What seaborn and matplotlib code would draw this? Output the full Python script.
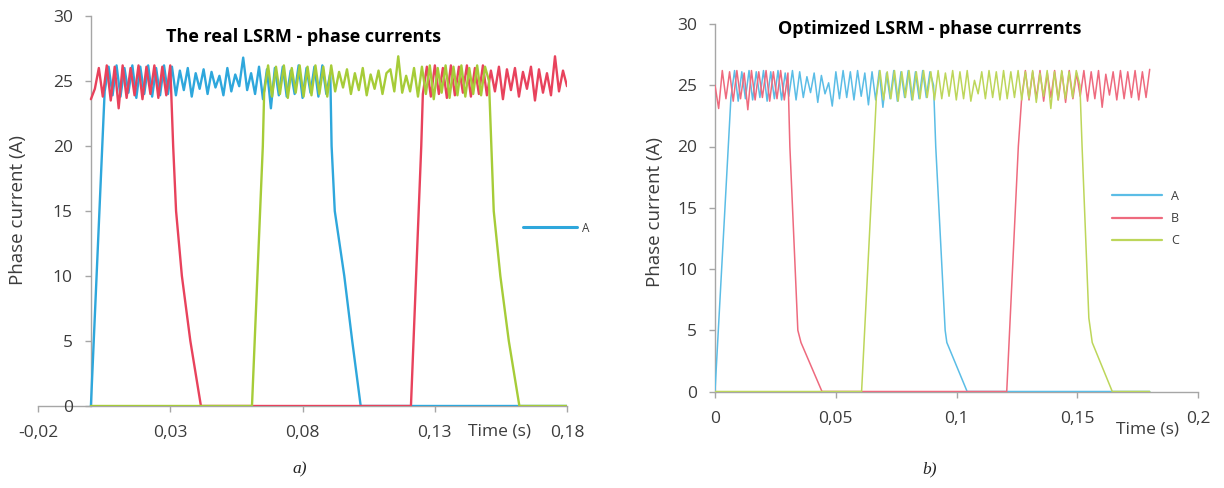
import numpy as np
import pandas as pd
import matplotlib
matplotlib.use("Agg")
import matplotlib.pyplot as plt
from matplotlib.lines import Line2D
import seaborn as sns

# ---- data ----
# left chart: the real LSRM
left_a_ripple = [
    24.2, 26.1, 23.9, 26.2, 23.8, 26.0, 24.1, 26.2, 23.7, 26.1,
    24.0, 26.2, 23.8, 26.0, 23.9, 26.2, 24.0, 26.1,
    23.9, 25.8, 24.3, 26.0, 23.8, 25.6, 24.4, 25.9, 24.0, 25.7,
    24.5, 25.4, 23.9, 26.0, 24.2, 25.5, 24.6, 26.8, 24.3, 25.6,
    24.0, 26.1, 23.6, 25.9, 22.9, 26.0, 23.9, 26.1, 23.8, 25.8,
    24.0, 26.2, 23.7, 26.0, 24.1, 26.1, 23.8, 26.2, 24.0, 25.6,
]
left_b_ripple1 = [
    23.6, 24.4, 26.0, 23.8, 26.2, 23.5, 26.1, 22.9, 26.2, 23.7,
    26.0, 23.9, 26.2, 23.6, 26.1, 24.0, 26.2, 23.7, 26.1, 23.9, 26.2,
]
left_b_ripple2 = [
    24.0, 26.1, 23.8, 26.2, 24.0, 26.0, 23.7, 26.2, 23.9, 26.1,
    24.1, 26.2, 23.8, 26.0, 24.0, 26.2, 23.9, 25.8, 24.2, 26.1,
    23.6, 25.9, 24.3, 26.0, 23.8, 25.7, 24.4, 26.1, 23.5, 25.9,
    24.1, 25.6, 23.9, 26.9, 24.2, 25.8, 24.6,
]
left_c_ripple = [
    24.1, 26.2, 23.8, 26.1, 24.0, 26.2, 23.7, 26.0, 24.1, 26.2,
    23.8, 26.1, 23.9, 26.2, 24.0, 26.1, 23.8, 26.2, 24.2, 25.7,
    24.5, 25.9, 24.0, 25.6, 24.3, 26.0, 23.9, 25.5, 24.4, 25.8,
    24.0, 25.6, 25.9, 24.2, 26.9, 24.1, 25.4, 24.2, 26.0, 23.8,
    26.1, 24.0, 26.2, 23.6, 26.0, 24.1, 26.2, 23.7, 26.1, 23.9,
    26.2, 23.8, 26.0, 24.0, 26.2, 23.9, 26.1, 25.0,
]
# switching edges (time s, current A)
left_a_fall_t = [0.0910, 0.0922, 0.0958, 0.0988, 0.1020, 0.18]
left_a_fall_i = [20, 15, 10, 5, 0, 0]
left_b_fall_t = [0.0311, 0.0322, 0.0344, 0.0376, 0.0416, 0.1210, 0.1249]
left_b_fall_i = [20, 15, 10, 5, 0, 0, 20]
left_c_fall_t = [0.1514, 0.1523, 0.1548, 0.1580, 0.1620, 0.18]
left_c_fall_i = [20, 15, 10, 5, 0, 0]

# right chart: optimized LSRM
right_a_ripple = [
    24.0, 26.2, 23.7, 26.1, 23.9, 26.2, 23.8, 26.1, 24.0, 26.2,
    23.7, 26.1, 23.9, 26.2, 23.8, 26.0, 24.1, 26.2, 23.8, 26.1,
    24.0, 25.7, 24.4, 26.0, 23.6, 25.8, 24.3, 25.2, 23.3, 26.1,
    23.9, 26.2, 24.0, 26.1, 23.8, 26.2, 24.1, 26.0, 23.4, 26.1,
    23.8, 26.2, 23.2, 26.0, 23.9, 26.2, 23.7, 26.1, 24.0, 26.2,
    23.8, 26.1, 23.9, 26.2, 24.0, 26.1, 25.0,
]
right_b_ripple1 = [
    25.0, 23.1, 26.2, 23.9, 26.1, 23.7, 26.2, 23.9, 26.0, 23.0,
    26.2, 23.8, 26.1, 24.0, 26.2, 23.7, 26.1, 23.9, 26.2, 23.8, 26.0,
]
right_b_ripple2 = [
    24.0, 26.2, 23.8, 26.1, 23.9, 26.2, 23.7, 26.0, 24.0, 26.2,
    23.8, 26.1, 23.6, 26.2, 23.9, 26.0, 24.1, 26.2, 23.7, 26.1,
    23.9, 26.2, 23.2, 25.9, 24.2, 26.1, 23.8, 26.2, 23.9, 26.1,
    24.0, 26.2, 23.8, 26.1, 24.0, 26.3,
]
right_c_ripple = [
    24.0, 26.2, 23.8, 26.1, 23.9, 26.2, 23.7, 26.1, 24.0, 26.2,
    23.8, 26.1, 23.9, 26.2, 24.0, 26.1, 23.8, 26.2, 23.9, 26.0,
    24.1, 26.2, 23.8, 26.1, 23.9, 26.2, 23.7, 25.4, 24.3, 26.1,
    23.9, 26.2, 24.0, 26.1, 23.8, 26.2, 23.9, 26.1, 24.0, 26.2,
    23.8, 26.1, 23.9, 26.2, 23.6, 26.0, 24.1, 26.2, 23.1, 26.1,
    23.8, 26.2, 23.9, 26.1, 24.0, 26.2, 25.0,
]
right_a_fall_t = [0.0914, 0.0953, 0.0960, 0.1044, 0.18]
right_a_fall_i = [20, 5, 4, 0, 0]
right_b_fall_t = [0.0310, 0.0343, 0.0356, 0.0443, 0.1208, 0.1256]
right_b_fall_i = [20, 5, 4, 0, 0, 20]
right_c_fall_t = [0.1520, 0.1548, 0.1562, 0.1645, 0.18]
right_c_fall_i = [20, 6, 4, 0, 0]

phases = ["A", "B", "C"]
colors_left = {"A": "#2ea7dc", "B": "#e8425c", "C": "#a6cc38"}
colors_right = {"A": "#5bbde6", "B": "#ee6a7e", "C": "#bdd65a"}


def ripple_t(t0, t1, values):
    # ripple samples are evenly spaced over the conduction interval
    return list(np.linspace(t0, t1, len(values)))


def frame(name, t, i):
    return pd.DataFrame({"t": t, "i": i, "phase": name})


left_df = pd.concat([
    frame("A", [0.0] + ripple_t(0.0052, 0.0905, left_a_ripple) + left_a_fall_t,
          [0.0] + left_a_ripple + left_a_fall_i),
    frame("B", ripple_t(0.0, 0.030, left_b_ripple1) + left_b_fall_t
          + ripple_t(0.1255, 0.18, left_b_ripple2),
          left_b_ripple1 + left_b_fall_i + left_b_ripple2),
    frame("C", [0.0, 0.0609, 0.0650] + ripple_t(0.0655, 0.1505, left_c_ripple) + left_c_fall_t,
          [0, 0, 20] + left_c_ripple + left_c_fall_i),
], ignore_index=True)

right_df = pd.concat([
    frame("A", [0.0] + ripple_t(0.0066, 0.0905, right_a_ripple) + right_a_fall_t,
          [0.0] + right_a_ripple + right_a_fall_i),
    frame("B", ripple_t(0.0, 0.0302, right_b_ripple1) + right_b_fall_t
          + ripple_t(0.127, 0.18, right_b_ripple2),
          right_b_ripple1 + right_b_fall_i + right_b_ripple2),
    frame("C", [0.0, 0.0607, 0.0658] + ripple_t(0.0668, 0.1511, right_c_ripple) + right_c_fall_t,
          [0, 0, 20] + right_c_ripple + right_c_fall_i),
], ignore_index=True)

left_xticks = [-0.02, 0.03, 0.08, 0.13, 0.18]
left_xlabels = ["-0,02", "0,03", "0,08", "0,13", "0,18"]
right_xticks = [0, 0.05, 0.1, 0.15, 0.2]
right_xlabels = ["0", "0,05", "0,1", "0,15", "0,2"]
yticks = [0, 5, 10, 15, 20, 25, 30]

# ---- drawing ----
sns.set_theme(style="white")
plt.rcParams["font.family"] = ["Open Sans", "DejaVu Sans"]

W, H = 1224, 488
fig = plt.figure(figsize=(W / 100, H / 100), dpi=100)
ax1 = fig.add_axes([38 / W, 1 - 406 / H, 529 / W, 390 / H])
ax2 = fig.add_axes([715 / W, 1 - 391.5 / H, 483 / W, 367.5 / H])

sns.lineplot(data=left_df, x="t", y="i", hue="phase", hue_order=phases,
             palette=colors_left, sort=False, estimator=None, lw=1.7,
             legend=False, ax=ax1)
sns.lineplot(data=right_df, x="t", y="i", hue="phase", hue_order=phases,
             palette=colors_right, sort=False, estimator=None, lw=1.1,
             legend=False, ax=ax2)

axis_grey = "#a6a6a6"
text_grey = "#3c3c3c"

for ax, xt, xl, xlim in [(ax1, left_xticks, left_xlabels, (-0.02, 0.18)),
                         (ax2, right_xticks, right_xlabels, (0, 0.2))]:
    ax.set_xlim(*xlim)
    ax.set_ylim(0, 30)
    ax.set_xticks(xt)
    ax.set_xticklabels(xl)
    ax.set_yticks(yticks)
    ax.set_xlabel("")
    ax.set_ylabel("")
    ax.patch.set_alpha(0)
    for s in ["top", "right"]:
        ax.spines[s].set_visible(False)
    for s in ["left", "bottom"]:
        ax.spines[s].set_color(axis_grey)
        ax.spines[s].set_linewidth(1.0)
    ax.spines["left"].set_position(("data", 0))
    ax.spines["left"].set_zorder(0)
    ax.spines["bottom"].set_zorder(0)
    ax.tick_params(axis="both", direction="out", length=4, width=1.0,
                   color=axis_grey, labelcolor=text_grey, labelsize=12.5,
                   bottom=True, left=True)
    ax.tick_params(axis="x", pad=10)
    ax.tick_params(axis="y", pad=9)

# legends (the left one only lists phase A, like the original)
ax1.legend(handles=[Line2D([], [], color=colors_left["A"], lw=2.2)], labels=["A"],
           loc="center left", bbox_to_anchor=(523 / W, 1 - 228 / H),
           bbox_transform=fig.transFigure, frameon=False, fontsize=8.5,
           handlelength=4.6, handletextpad=0.4, borderpad=0, borderaxespad=0,
           labelcolor=text_grey)
ax2.legend(handles=[Line2D([], [], color=colors_right[p], lw=1.6) for p in phases],
           labels=phases, loc="center left", bbox_to_anchor=(1112 / W, 1 - 218.5 / H),
           bbox_transform=fig.transFigure, frameon=False, fontsize=9,
           handlelength=4.0, handletextpad=0.7, labelspacing=0.75, borderpad=0,
           borderaxespad=0, labelcolor=text_grey)

# titles, axis names, captions
fig.text(303 / W, 1 - 37 / H, "The real LSRM - phase currents", ha="center", va="center",
         fontsize=13, fontweight="bold", color="black")
fig.text(930 / W, 1 - 29 / H, "Optimized LSRM - phase currrents", ha="center", va="center",
         fontsize=13, fontweight="bold", color="black")
fig.text(18 / W, 1 - 210 / H, "Phase current (A)", rotation=90, ha="center", va="center",
         fontsize=13.5, color=text_grey)
fig.text(655 / W, 1 - 212 / H, "Phase current (A)", rotation=90, ha="center", va="center",
         fontsize=13.5, color=text_grey)
fig.text(500 / W, 1 - 432 / H, "Time (s)", ha="center", va="center",
         fontsize=12.5, color=text_grey)
fig.text(1148 / W, 1 - 430 / H, "Time (s)", ha="center", va="center",
         fontsize=12.5, color=text_grey)
fig.text(300 / W, 1 - 469 / H, "a)", ha="center", va="center", fontsize=12.5,
         style="italic", family=["Liberation Serif", "DejaVu Serif"], color="#222222")
fig.text(930 / W, 1 - 469 / H, "b)", ha="center", va="center", fontsize=12.5,
         style="italic", family=["Liberation Serif", "DejaVu Serif"], color="#222222")

fig.savefig("out.png", dpi=100)
